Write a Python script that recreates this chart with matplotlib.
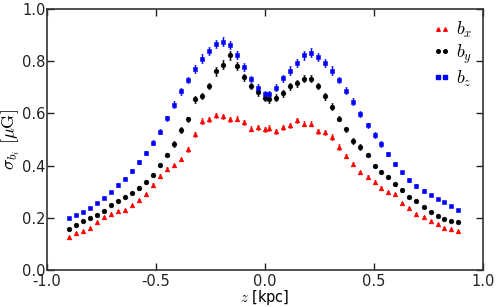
import matplotlib
matplotlib.use("Agg")
import matplotlib.pyplot as plt
from matplotlib.lines import Line2D

# z-positions of the bins (left half and right half)
z = [-0.900, -0.868, -0.836, -0.804, -0.771, -0.739, -0.707, -0.675, -0.643, -0.611,
     -0.579, -0.546, -0.514, -0.482, -0.450, -0.418, -0.386, -0.354, -0.321, -0.289,
     -0.257, -0.225, -0.193, -0.161, -0.129, -0.096, -0.064, -0.032, 0.000,
     0.020, 0.052, 0.084, 0.116, 0.148, 0.180, 0.213, 0.245, 0.277, 0.309,
     0.341, 0.373, 0.405, 0.437, 0.470, 0.502, 0.534, 0.566, 0.598, 0.630,
     0.662, 0.694, 0.727, 0.759, 0.791, 0.823, 0.855, 0.887]

bx = [0.125, 0.141, 0.149, 0.162, 0.185, 0.204, 0.213, 0.225, 0.231, 0.248,
      0.268, 0.290, 0.326, 0.361, 0.388, 0.401, 0.424, 0.462, 0.520, 0.571,
      0.577, 0.593, 0.589, 0.577, 0.580, 0.566, 0.541, 0.546, 0.539,
      0.544, 0.532, 0.546, 0.555, 0.573, 0.560, 0.560, 0.531, 0.527, 0.510,
      0.471, 0.438, 0.406, 0.374, 0.358, 0.338, 0.313, 0.300, 0.290, 0.258,
      0.236, 0.213, 0.202, 0.189, 0.175, 0.162, 0.157, 0.149]
by = [0.156, 0.171, 0.187, 0.198, 0.210, 0.226, 0.250, 0.266, 0.279, 0.294,
      0.313, 0.338, 0.363, 0.401, 0.442, 0.483, 0.536, 0.577, 0.654, 0.667,
      0.705, 0.761, 0.787, 0.822, 0.782, 0.738, 0.705, 0.681, 0.660,
      0.654, 0.660, 0.677, 0.704, 0.716, 0.733, 0.733, 0.705, 0.665, 0.626,
      0.580, 0.539, 0.494, 0.471, 0.442, 0.400, 0.377, 0.358, 0.328, 0.307,
      0.278, 0.264, 0.240, 0.222, 0.208, 0.194, 0.188, 0.184]
bz = [0.198, 0.211, 0.223, 0.238, 0.257, 0.277, 0.299, 0.325, 0.350, 0.380,
      0.415, 0.449, 0.488, 0.530, 0.581, 0.633, 0.685, 0.728, 0.770, 0.810,
      0.840, 0.866, 0.875, 0.861, 0.824, 0.777, 0.732, 0.699, 0.673,
      0.673, 0.699, 0.734, 0.764, 0.794, 0.822, 0.833, 0.817, 0.792, 0.764,
      0.728, 0.687, 0.645, 0.598, 0.555, 0.517, 0.483, 0.444, 0.407, 0.374,
      0.346, 0.323, 0.303, 0.287, 0.273, 0.262, 0.246, 0.231]

# error bars
bx_err = [0.004, 0.004, 0.004, 0.004, 0.004, 0.004, 0.004, 0.004, 0.004, 0.004,
          0.004, 0.004, 0.007, 0.007, 0.007, 0.007, 0.007, 0.010, 0.010, 0.010,
          0.010, 0.010, 0.010, 0.010, 0.010, 0.010, 0.010, 0.010, 0.010,
          0.010, 0.010, 0.010, 0.010, 0.010, 0.010, 0.010, 0.010, 0.010, 0.010,
          0.010, 0.007, 0.007, 0.007, 0.007, 0.007, 0.007, 0.004, 0.004, 0.004,
          0.004, 0.004, 0.004, 0.004, 0.004, 0.004, 0.004, 0.004]
by_err = [0.004, 0.004, 0.004, 0.004, 0.004, 0.004, 0.004, 0.004, 0.004, 0.004,
          0.007, 0.007, 0.007, 0.007, 0.007, 0.010, 0.010, 0.010, 0.013, 0.013,
          0.013, 0.016, 0.016, 0.016, 0.016, 0.013, 0.013, 0.013, 0.013,
          0.013, 0.013, 0.013, 0.013, 0.013, 0.013, 0.013, 0.013, 0.013, 0.013,
          0.010, 0.010, 0.010, 0.010, 0.007, 0.007, 0.007, 0.007, 0.007, 0.007,
          0.004, 0.004, 0.004, 0.004, 0.004, 0.004, 0.004, 0.004]
bz_err = [0.004, 0.004, 0.004, 0.004, 0.004, 0.004, 0.004, 0.007, 0.007, 0.007,
          0.007, 0.007, 0.010, 0.010, 0.010, 0.013, 0.013, 0.013, 0.016, 0.016,
          0.016, 0.016, 0.016, 0.016, 0.016, 0.016, 0.013, 0.013, 0.013,
          0.013, 0.013, 0.013, 0.016, 0.016, 0.016, 0.016, 0.016, 0.016, 0.016,
          0.013, 0.013, 0.013, 0.010, 0.010, 0.010, 0.010, 0.007, 0.007, 0.007,
          0.007, 0.007, 0.007, 0.004, 0.004, 0.004, 0.004, 0.004]

plt.rcParams['mathtext.fontset'] = 'cm'
plt.rcParams['axes.unicode_minus'] = False
plt.rcParams['font.size'] = 10

fig = plt.figure(figsize=(4.97, 3.07), dpi=100)
ax = fig.add_axes([0.0946, 0.1205, 0.8774, 0.8502])

series = [(bx, bx_err, '^', 'red', 3.4, r'$b_x$'),
          (by, by_err, 'o', 'black', 3.4, r'$b_y$'),
          (bz, bz_err, 's', 'blue', 3.2, r'$b_z$')]
handles = []
for vals, err, mk, col, ms, lab in series:
    ax.errorbar(z, vals, yerr=err, fmt=mk, color=col, mec=col, ms=ms, mew=0.4,
                elinewidth=1, capsize=1.0)
    handles.append(Line2D([], [], ls='none', marker=mk, color=col, mec=col,
                          ms=2.6, label=lab))

ax.set_xlim(-1.0, 1.0)
ax.set_ylim(0.0, 1.0)
ax.set_xticks([-1.0, -0.5, 0.0, 0.5, 1.0])
ax.set_yticks([0.0, 0.2, 0.4, 0.6, 0.8, 1.0])
ax.tick_params(direction='in', top=True, right=True, length=5, width=1,
               labelsize=10.5, colors='#222222')
ax.tick_params(axis='x', pad=3)
ax.tick_params(axis='y', pad=1)
for s in ax.spines.values():
    s.set_linewidth(1.2)
    s.set_color('#333333')

ax.set_xlabel(r'$z$ [kpc]', fontsize=10.5, labelpad=-1)
ax.set_ylabel(r'$\sigma_{b_i}\ [\mu\mathrm{G}]$', fontsize=13, labelpad=0)

ax.legend(handles=handles, loc='upper right', frameon=False, numpoints=2,
          fontsize=13, handlelength=1.0, handletextpad=0.3,
          labelspacing=0.15, borderaxespad=0.2)

plt.savefig("out.png", dpi=100)
